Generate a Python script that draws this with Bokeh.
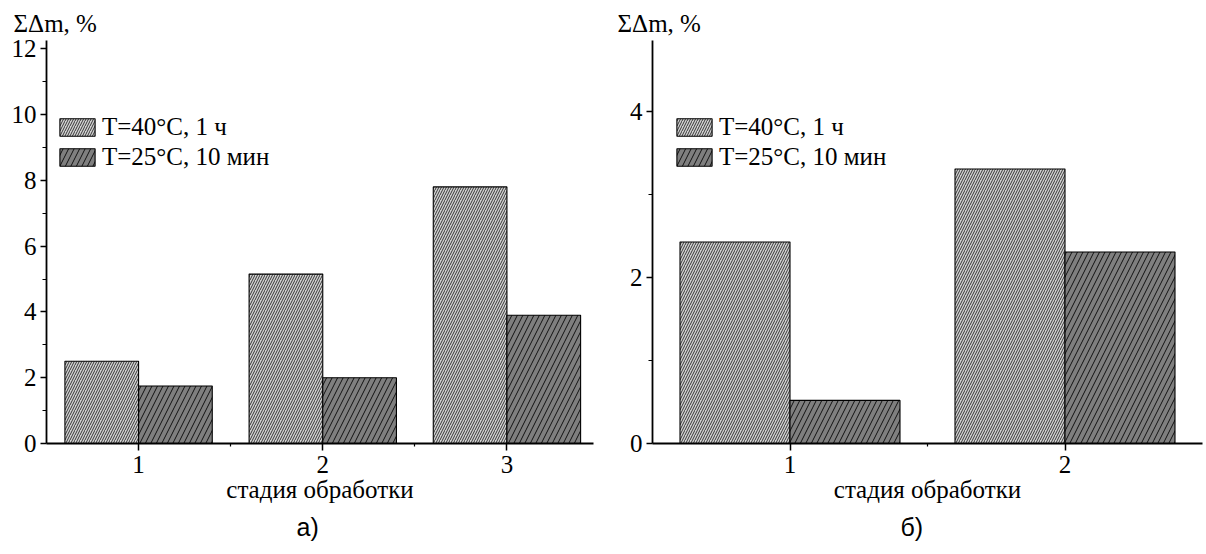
from bokeh.plotting import figure
from bokeh.layouts import row
from bokeh.models import FixedTicker, Range1d, ColumnDataSource, Title
from bokeh.transform import dodge
from bokeh.embed import file_html
from bokeh.resources import INLINE

# ---- data ----
stages_a = [1, 2, 3]
a_t40 = [2.5, 5.15, 7.8]
a_t25 = [1.75, 2.0, 3.9]
stages_b = [1, 2]
b_t40 = [2.43, 3.31]
b_t25 = [0.52, 2.31]
series_labels = ["T=40°C, 1 ч", "T=25°C, 10 мин"]
y_label = "ΣΔm, %"
x_label = "стадия обработки"
panel_labels = ["а)", "б)"]
y_ticks_a = [0, 2, 4, 6, 8, 10, 12]
y_minor_a = [1, 3, 5, 7, 9, 11]
y_ticks_b = [0, 2, 4]
y_minor_b = [1, 3]
x_minor_a = [1.5, 2.5]
x_minor_b = [1.5]

SERIF = "Liberation Serif"
SANS = "Liberation Sans"
FS = "25px"
FRAME_H = 403
TOP = 40
HEIGHT = 554


def make(stages, v40, v25, xend, ytop, yt, ym, xm, mb_left, frame_w, width,
         legend_x, ylab_off, panel, panel_off):
    p = figure(width=width, height=HEIGHT, output_backend="svg", toolbar_location=None,
               x_range=Range1d(0.5, xend), y_range=Range1d(0, ytop),
               min_border_left=mb_left, min_border_right=width - mb_left - frame_w,
               min_border_top=TOP, min_border_bottom=HEIGHT - TOP - FRAME_H)
    src = ColumnDataSource(dict(x=stages, t40=v40, t25=v25))
    p.vbar(x=dodge("x", -0.2, range=p.x_range), top="t40", width=0.4, source=src,
           fill_color="#d2d2d2", line_color="black", line_width=1.1,
           hatch_pattern="/", hatch_scale=5, hatch_weight=0.85, hatch_color="#1a1a1a",
           legend_label=series_labels[0])
    p.vbar(x=dodge("x", 0.2, range=p.x_range), top="t25", width=0.4, source=src,
           fill_color="#7f7f7f", line_color="black", line_width=1.1,
           hatch_pattern="/", hatch_scale=11, hatch_weight=1.0, hatch_color="#111111",
           legend_label=series_labels[1])

    p.xgrid.visible = False
    p.ygrid.visible = False
    p.outline_line_color = None
    p.background_fill_color = "white"

    for ax in (p.xaxis[0], p.yaxis[0]):
        ax.axis_line_width = 1.8
        ax.axis_line_color = "black"
        ax.major_tick_line_color = "black"
        ax.major_tick_line_width = 1.5
        ax.minor_tick_line_color = "black"
        ax.minor_tick_line_width = 1.2
        ax.major_tick_in = 0
        ax.minor_tick_in = 0
        ax.major_label_text_font = SERIF
        ax.major_label_text_font_size = FS
        ax.major_label_text_color = "black"

    p.xaxis.ticker = FixedTicker(ticks=stages, minor_ticks=xm)
    p.xaxis.major_tick_out = 7
    p.xaxis.minor_tick_out = 3
    p.xaxis.major_label_standoff = 5
    p.xaxis.axis_label = x_label
    p.xaxis.axis_label_text_font = SERIF
    p.xaxis.axis_label_text_font_size = FS
    p.xaxis.axis_label_text_font_style = "normal"
    p.xaxis.axis_label_text_color = "black"
    p.xaxis.axis_label_standoff = 0
    p.yaxis.ticker = FixedTicker(ticks=yt, minor_ticks=ym)
    p.yaxis.major_tick_out = 6
    p.yaxis.minor_tick_out = 4
    p.yaxis.major_label_standoff = 4

    lg = p.legend[0]
    lg.location = (legend_x, 272)
    lg.glyph_width = 44
    lg.glyph_height = 22
    lg.label_height = 22
    lg.label_standoff = 3
    lg.spacing = 2
    lg.padding = 0
    lg.margin = 0
    lg.border_line_color = None
    lg.background_fill_alpha = 0
    lg.label_text_font = SERIF
    lg.label_text_font_size = FS
    lg.label_text_color = "black"

    p.add_layout(Title(text=y_label, align="left", offset=ylab_off, standoff=8,
                       text_font=SERIF, text_font_size=FS, text_font_style="normal",
                       text_color="black"), "above")
    p.add_layout(Title(text=panel, align="left", offset=panel_off, standoff=10,
                       text_font=SANS, text_font_size="25px", text_font_style="normal",
                       text_color="black"), "below")
    return p


p1 = make(stages_a, a_t40, a_t25, 3.47, 12.25, y_ticks_a, y_minor_a, x_minor_a,
          46, 547, 600, 9, -33, panel_labels[0], 250)
p2 = make(stages_b, b_t40, b_t25, 2.5, 4.86, y_ticks_b, y_minor_b, x_minor_b,
          52, 550, 606, 20, -35, panel_labels[1], 248)

layout = row(p1, p2)
open("out.html", "w").write(file_html(layout, INLINE))
